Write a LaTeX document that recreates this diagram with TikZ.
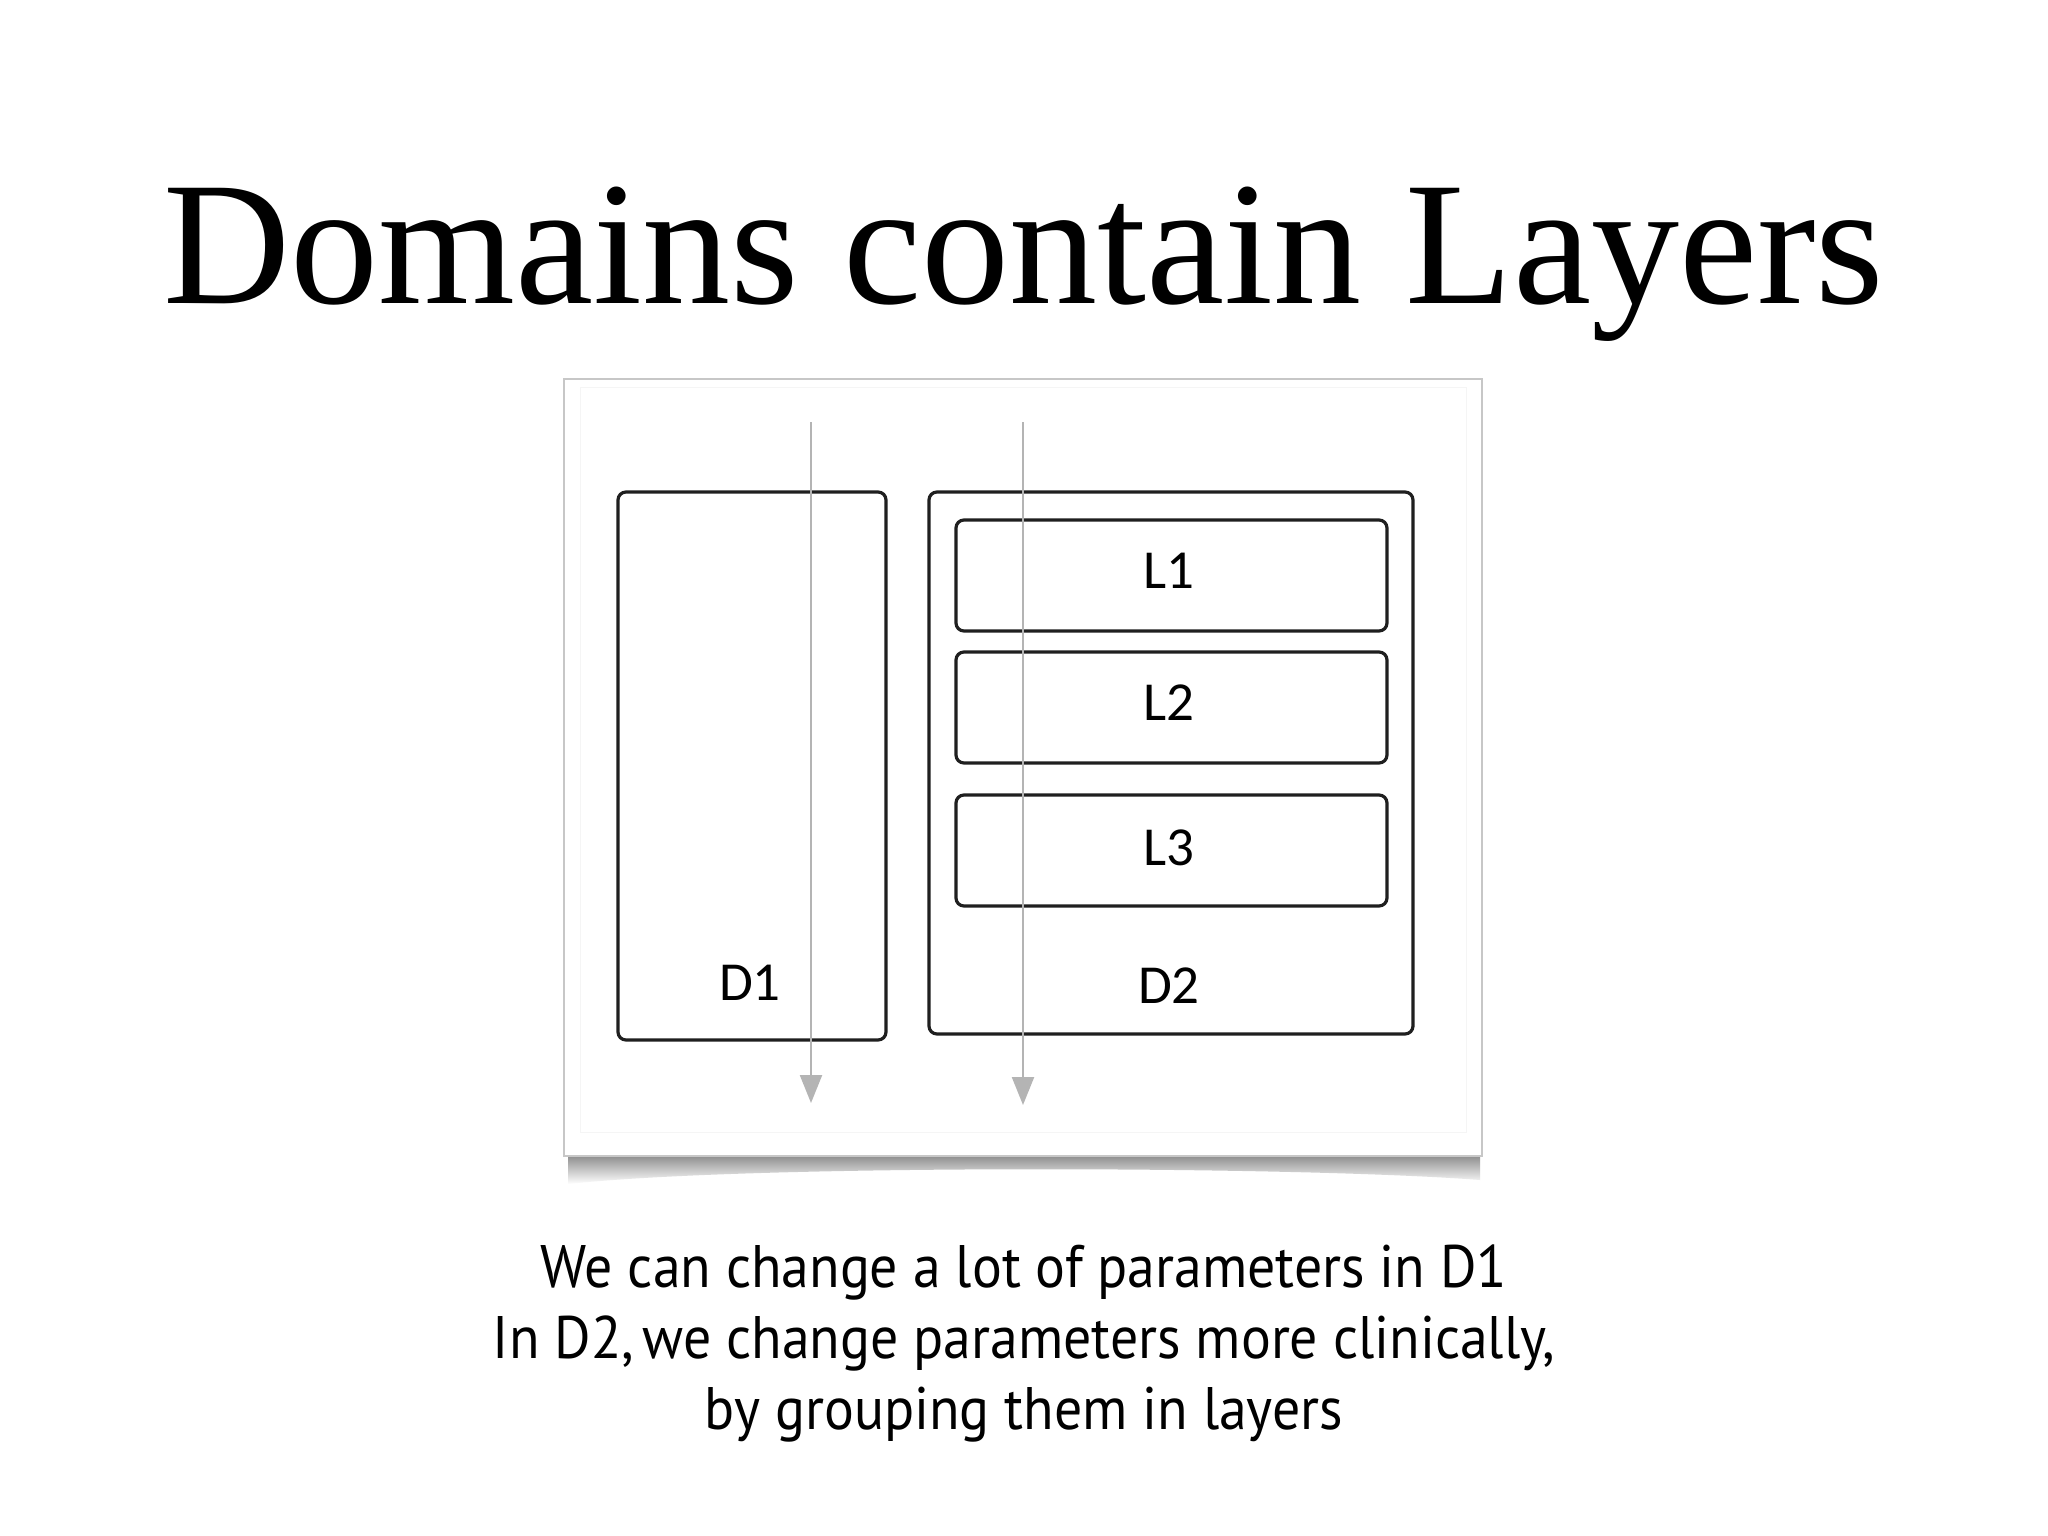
\documentclass[tikz,border=0pt]{standalone}
\usepackage{fontspec}
\usetikzlibrary{arrows.meta}
\newfontfamily\titlefont{Liberation Serif}
\newfontfamily\bodyfont[FakeStretch=0.93]{PT Sans}
\newfontfamily\labelfont{Carlito}
\definecolor{arrowgray}{HTML}{B4B4B4}
\tikzset{
  domainbox/.style={draw=black!88, line width=3.2pt, rounded corners=8pt, fill=white, inner sep=0pt},
  labeltext/.style={font=\labelfont\fontsize{55}{60}\selectfont, text=black, inner sep=0pt},
  flowarrow/.style={draw=arrowgray, line width=2.2pt, -{Triangle[width=22pt,length=28pt]}},
  bodytext/.style={font=\bodyfont\fontsize{60}{70}\selectfont, anchor=base, inner sep=0pt},
}
\begin{document}
\begin{tikzpicture}[x=1pt,y=-1pt]
\useasboundingbox (0,0) rectangle (2048,1536);
\fill[white] (0,0) rectangle (2048,1536);
% title
\node[font=\titlefont\fontsize{176}{200}\selectfont, anchor=base, inner sep=0pt] (title) at (1024,303) {Domains contain Layers};
% photo frame shadow
\shade[top color=black!50, bottom color=white] (568,1152) -- (1480,1152) -- (1480,1180) .. controls (1300,1166) and (750,1164) .. (568,1184) -- cycle;
% photo frame
\node[draw=black!22, line width=1.5pt, fill=white, minimum width=918pt, minimum height=777pt, inner sep=0pt] (frame) at (1023,767.5) {};
\node[draw=black!4, line width=1pt, minimum width=886pt, minimum height=745pt, inner sep=0pt] (inner) at (1023,760) {};
% domains
\node[domainbox, minimum width=268pt, minimum height=548pt] (d1) at (752,766) {};
\node[domainbox, minimum width=484pt, minimum height=542pt] (d2) at (1171,763) {};
% layers
\node[domainbox, minimum width=431pt, minimum height=111pt] (l1) at (1171.5,575.5) {};
\node[domainbox, minimum width=431pt, minimum height=111pt] (l2) at (1171.5,707.5) {};
\node[domainbox, minimum width=431pt, minimum height=111pt] (l3) at (1171.5,850.5) {};
% labels
\node[labeltext] (l1t) at (1169,571) {L1};
\node[labeltext] (l2t) at (1169,703) {L2};
\node[labeltext] (l3t) at (1169,848) {L3};
\node[labeltext] (d1t) at (750,983) {D1};
\node[labeltext] (d2t) at (1169,986) {D2};
% arrows
\coordinate (a1s) at (811,422);
\coordinate (a1e) at (811,1103);
\coordinate (a2s) at (1023,422);
\coordinate (a2e) at (1023,1105);
\draw[flowarrow] (a1s) -- (a1e);
\draw[flowarrow] (a2s) -- (a2e);
% caption
\node[bodytext] (c1) at (1024,1287) {We can change a lot of parameters in D1};
\node[bodytext] (c2) at (1024,1358) {In D2,\kern-0.1em\ we change parameters more clinically,};
\node[bodytext] (c3) at (1024,1429) {by grouping them in layers};
\end{tikzpicture}
\end{document}
